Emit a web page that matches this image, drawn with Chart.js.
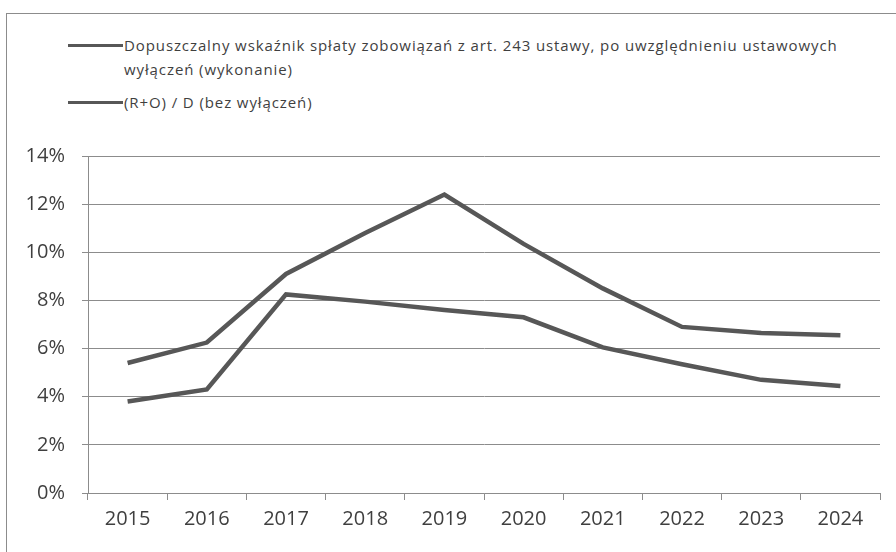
<!DOCTYPE html>
<html>
<head>
<meta charset="utf-8">
<script src="https://cdn.jsdelivr.net/npm/chart.js@4"></script>
<style>
  html, body { margin: 0; padding: 0; background: #fff; overflow: hidden; }
  #wrap { position: relative; width: 896px; height: 552px; }
  #frame { position: absolute; left: 6px; top: 13px; width: 900px; height: 560px; border: 1px solid #8c8c8c; }
  #legend { position: absolute; left: 68px; top: 33px; font-family: "Open Sans", sans-serif; font-size: 15px; letter-spacing: 0.9px; color: #3f3f3f; }
  .item { position: relative; padding-left: 56px; white-space: pre-line; line-height: 24px; margin-bottom: 9px; }
  .item span { position: absolute; left: 0; top: 11px; width: 55px; height: 3px; }
  canvas { position: absolute; left: 0; top: 0; }
</style>
</head>
<body>
<div id="wrap">
  <div id="frame"></div>
  <div id="legend"></div>
  <canvas id="lineChart" width="896" height="552"></canvas>
</div>
<script>
// data (percent)
const years = ['2015', '2016', '2017', '2018', '2019', '2020', '2021', '2022', '2023', '2024'];
const dopuszczalny = [5.4, 6.25, 9.1, 10.8, 12.4, 10.35, 8.5, 6.9, 6.65, 6.55];
const roD = [3.8, 4.3, 8.25, 7.95, 7.6, 7.3, 6.05, 5.35, 4.7, 4.45];
const seriesLabels = [
  'Dopuszczalny wskaźnik spłaty zobowiązań z art. 243 ustawy, po uwzględnieniu ustawowych\nwyłączeń (wykonanie)',
  '(R+O) / D (bez wyłączeń)'
];
const yTicks = [0, 2, 4, 6, 8, 10, 12, 14];

const lineColor = '#575757';
const ctx = document.getElementById('lineChart').getContext('2d');

const chart = new Chart(ctx, {
  type: 'line',
  data: {
    labels: years,
    datasets: [
      { label: seriesLabels[0], data: dopuszczalny, borderColor: lineColor, borderWidth: 4.5, pointRadius: 0, tension: 0 },
      { label: seriesLabels[1], data: roD, borderColor: lineColor, borderWidth: 4.5, pointRadius: 0, tension: 0 }
    ]
  },
  options: {
    responsive: false,
    animation: false,
    layout: { padding: { top: 156, right: 16, left: 0, bottom: 0 } },
    plugins: { legend: { display: false }, tooltip: { enabled: false } },
    scales: {
      x: {
        offset: true,
        grid: { offset: true, drawOnChartArea: false, drawTicks: true, tickLength: 7, color: '#8c8c8c' },
        border: { display: true, color: '#8c8c8c' },
        ticks: { color: '#3f3f3f', padding: 7, font: { family: 'Open Sans', size: 20 } },
        afterFit: scale => { scale.height = 59; }
      },
      y: {
        min: 0,
        max: 14,
        afterBuildTicks: scale => { scale.ticks = yTicks.map(v => ({ value: v })); },
        grid: { color: '#8c8c8c', tickLength: 6 },
        border: { display: true, color: '#8c8c8c' },
        ticks: { color: '#3f3f3f', padding: 17, font: { family: 'Open Sans', size: 20 }, callback: v => v + '%' },
        afterFit: scale => { scale.width = 88; }
      }
    }
  }
});

// legend built from the datasets (labels wrap like in the original)
const legend = document.getElementById('legend');
chart.data.datasets.forEach(ds => {
  const div = document.createElement('div');
  div.className = 'item';
  const swatch = document.createElement('span');
  swatch.style.background = ds.borderColor;
  div.appendChild(swatch);
  div.appendChild(document.createTextNode(ds.label));
  legend.appendChild(div);
});
</script>
</body>
</html>
